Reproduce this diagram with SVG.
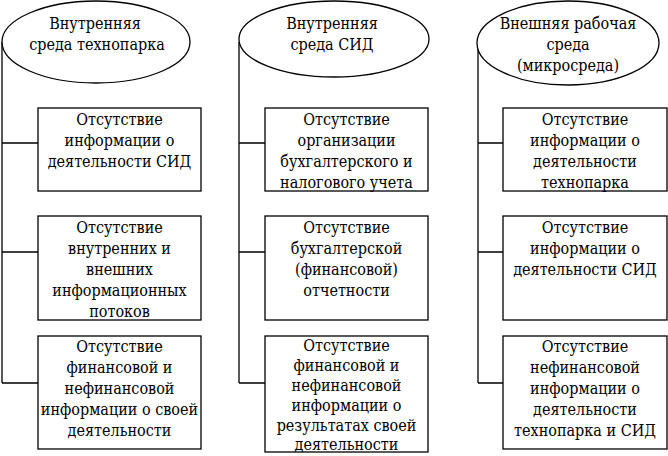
<svg xmlns="http://www.w3.org/2000/svg" width="668" height="456" viewBox="0 0 668 456">
<style>
.sh{fill:#fff;stroke:#000;stroke-width:1.3}
.ln{fill:none;stroke:#000;stroke-width:1.3}
text{font-family:'DejaVu Serif Condensed','DejaVu Serif',serif;font-stretch:condensed;font-size:16px;fill:#000;text-anchor:middle}
</style>
<rect width="668" height="456" fill="#fff"/>
<g id="connectors">
<path class="ln" d="M2,42 V383 M2,143 H38 M2,252 H38 M2,383 H38"/>
<path class="ln" d="M239,42 V383 M239,143 H265 M239,252 H265 M239,383 H265"/>
<path class="ln" d="M478,44 V383 M478,143 H503 M478,252 H503 M478,383 H503"/>
</g>
<g id="e1"><ellipse class="sh" cx="96" cy="42" rx="94" ry="41"/>
<text x="95" y="29">Внутренняя</text><text x="97" y="50">среда технопарка</text></g>
<g id="e2"><ellipse class="sh" cx="334" cy="39" rx="95" ry="38"/>
<text x="332" y="29">Внутренняя</text><text x="332" y="50">среда СИД</text></g>
<g id="e3"><ellipse class="sh" cx="568" cy="43" rx="91" ry="42"/>
<text x="568" y="29">Внешняя рабочая</text><text x="568" y="50">среда</text><text x="568" y="71">(микросреда)</text></g>
<g id="b11"><rect class="sh" x="38" y="108" width="163" height="83"/>
<text x="119.5" y="125">Отсутствие</text><text x="119.5" y="146">информации о</text><text x="119.5" y="167">деятельности СИД</text></g>
<g id="b12"><rect class="sh" x="38" y="216" width="163" height="104"/>
<text x="119.5" y="233">Отсутствие</text><text x="119.5" y="254">внутренних и</text><text x="119.5" y="275">внешних</text><text x="119.5" y="296">информационных</text><text x="119.5" y="317">потоков</text></g>
<g id="b13"><rect class="sh" x="38" y="336" width="163" height="113"/>
<text x="119.5" y="352">Отсутствие</text><text x="119.5" y="373">финансовой и</text><text x="119.5" y="394">нефинансовой</text><text x="119.5" y="415">информации о своей</text><text x="119.5" y="436">деятельности</text></g>
<g id="b21"><rect class="sh" x="265" y="108" width="163" height="83"/>
<text x="346.5" y="125">Отсутствие</text><text x="346.5" y="146">организации</text><text x="346.5" y="167">бухгалтерского и</text><text x="346.5" y="188">налогового учета</text></g>
<g id="b22"><rect class="sh" x="265" y="216" width="163" height="104"/>
<text x="346.5" y="233">Отсутствие</text><text x="346.5" y="254">бухгалтерской</text><text x="346.5" y="275">(финансовой)</text><text x="346.5" y="296">отчетности</text></g>
<g id="b23"><rect class="sh" x="265" y="336" width="163" height="116"/>
<text x="346.5" y="351">Отсутствие</text><text x="346.5" y="371">финансовой и</text><text x="346.5" y="391">нефинансовой</text><text x="346.5" y="411">информации о</text><text x="346.5" y="431">результатах своей</text><text x="346.5" y="450">деятельности</text></g>
<g id="b31"><rect class="sh" x="503" y="108" width="164" height="83"/>
<text x="585" y="125">Отсутствие</text><text x="585" y="146">информации о</text><text x="585" y="167">деятельности</text><text x="585" y="188">технопарка</text></g>
<g id="b32"><rect class="sh" x="503" y="216" width="164" height="104"/>
<text x="585" y="233">Отсутствие</text><text x="585" y="254">информации о</text><text x="585" y="275">деятельности СИД</text></g>
<g id="b33"><rect class="sh" x="503" y="336" width="164" height="113"/>
<text x="585" y="352">Отсутствие</text><text x="585" y="373">нефинансовой</text><text x="585" y="394">информации о</text><text x="585" y="415">деятельности</text><text x="585" y="436">технопарка и СИД</text></g>
</svg>
